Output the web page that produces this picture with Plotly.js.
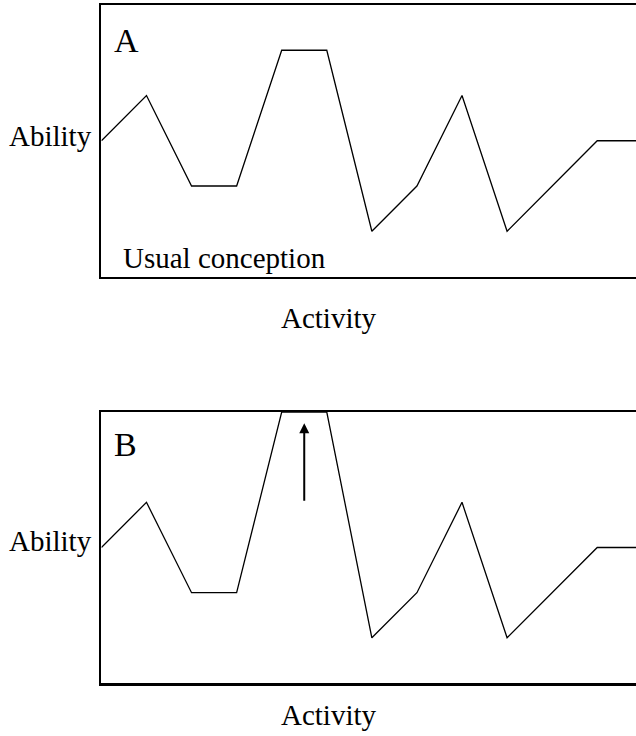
<!DOCTYPE html>
<html>
<head>
<meta charset="utf-8">
<script src="https://cdn.plot.ly/plotly-3.0.1.min.js"></script>
<style>html,body{margin:0;padding:0;background:#fff;}#chart{width:636px;height:736px;}</style>
</head>
<body>
<div id="chart"></div>
<script>
// Data
const activityIdx = [0, 1, 2, 3, 4, 5, 6, 7, 8, 9, 11, 12];
const abilityA = [3, 4, 2, 2, 5, 5, 1, 2, 4, 1, 3, 3];
const abilityB = [3, 4, 2, 2, 6, 6, 1, 2, 4, 1, 3, 3];
const panelLabels = ['A', 'B'];
const xLabel = 'Activity';
const yLabel = 'Ability';
const noteText = 'Usual conception';
const arrowX = 4.5, arrowFrom = 4, arrowTo = 5.75;

const W = 636, H = 736;
const px = v => v / W;
const py = v => 1 - v / H;
const font = {family: 'Liberation Serif, Times New Roman, serif', color: '#000', size: 29};
const bigFont = Object.assign({}, font, {size: 34});

const lineStyle = {color: '#000', width: 1.3};
const traces = [
  {x: activityIdx, y: abilityA, type: 'scatter', mode: 'lines', line: lineStyle, xaxis: 'x', yaxis: 'y', hoverinfo: 'skip'},
  {x: activityIdx, y: abilityB, type: 'scatter', mode: 'lines', line: lineStyle, xaxis: 'x2', yaxis: 'y2', hoverinfo: 'skip'}
];

const xDomain = [101.4 / W, 1];
const xRange = [0, 11.86];
const axX = d => ({domain: xDomain, range: xRange, showline: true, mirror: true, linewidth: 2.5, linecolor: '#000',
  showgrid: false, zeroline: false, showticklabels: false, ticks: '', fixedrange: true});
const axY = d => ({domain: d, range: [0, 6], showline: true, mirror: false, linewidth: 2.5, linecolor: '#000',
  showgrid: false, zeroline: false, showticklabels: false, ticks: '', fixedrange: true});

const ann = (text, x, y, xa, f) => ({text, x: px(x), y: py(y), xref: 'paper', yref: 'paper', xanchor: xa, yanchor: 'middle', showarrow: false, font: f || font});

const layout = {
  width: W, height: H,
  margin: {l: 0, r: 0, t: 0, b: 0},
  paper_bgcolor: '#fff', plot_bgcolor: '#fff',
  showlegend: false,
  xaxis: Object.assign(axX(), {anchor: 'y'}),
  yaxis: Object.assign(axY([1 - 276.5 / H, 1 - 5 / H]), {anchor: 'x'}),
  xaxis2: Object.assign(axX(), {anchor: 'y2'}),
  yaxis2: Object.assign(axY([1 - 683 / H, 1 - 412 / H]), {anchor: 'x2'}),
  annotations: [
    ann(panelLabels[0], 112, 40, 'left', bigFont),
    ann(panelLabels[1], 112, 444, 'left', bigFont),
    ann(yLabel, 94, 136, 'right'),
    ann(yLabel, 94, 541, 'right'),
    ann(noteText, 121, 258, 'left'),
    ann(xLabel, 329, 318, 'center'),
    ann(xLabel, 329, 715, 'center'),
    {x: arrowX, y: arrowTo, ax: arrowX, ay: arrowFrom, xref: 'x2', yref: 'y2', axref: 'x2', ayref: 'y2',
     text: '', showarrow: true, arrowhead: 2, arrowsize: 1, arrowwidth: 2, arrowcolor: '#000'}
  ]
};

Plotly.newPlot('chart', traces, layout, {staticPlot: true, displayModeBar: false});
</script>
</body>
</html>
